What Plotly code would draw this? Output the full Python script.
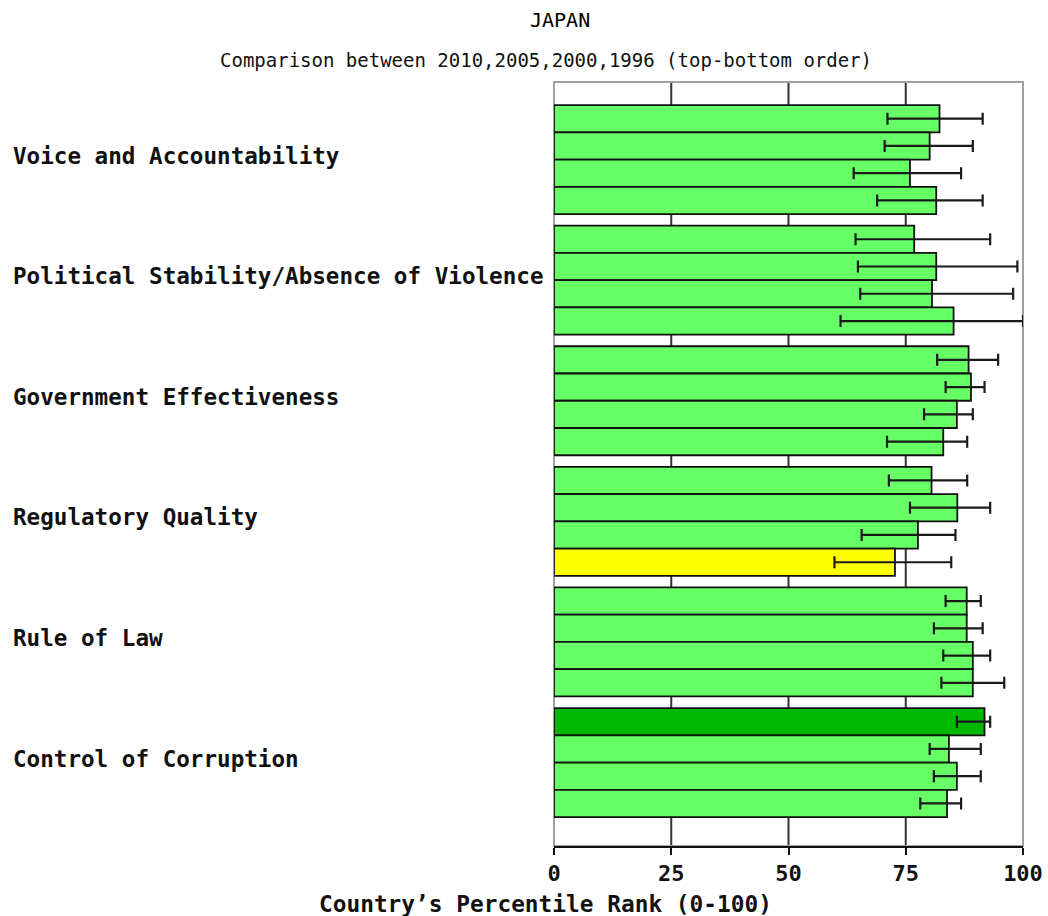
import plotly.graph_objects as go

# Governance indicators, listed top to bottom
categories = [
    "Voice and Accountability",
    "Political Stability/Absence of Violence",
    "Government Effectiveness",
    "Regulatory Quality",
    "Rule of Law",
    "Control of Corruption",
]
years = ["2010", "2005", "2000", "1996"]

# Percentile rank per year (same order as categories)
rank_2010 = [82.2, 76.8, 88.4, 80.5, 88.0, 91.8]
rank_2005 = [80.1, 81.5, 88.9, 86.0, 88.0, 84.2]
rank_2000 = [75.9, 80.6, 85.9, 77.6, 89.3, 85.9]
rank_1996 = [81.5, 85.2, 83.0, 72.7, 89.3, 83.8]

# Lower / upper bounds of the confidence interval
low_2010 = [71.1, 64.3, 81.7, 71.4, 83.5, 85.9]
high_2010 = [91.4, 93.0, 94.7, 88.1, 91.0, 93.0]
low_2005 = [70.5, 64.8, 83.5, 75.9, 81.0, 80.1]
high_2005 = [89.3, 98.8, 91.8, 93.0, 91.4, 91.0]
low_2000 = [63.9, 65.3, 78.9, 65.6, 83.0, 81.0]
high_2000 = [86.8, 97.9, 89.3, 85.6, 93.0, 91.0]
low_1996 = [68.9, 61.1, 71.0, 59.8, 82.6, 78.1]
high_1996 = [91.4, 100.0, 88.1, 84.7, 96.0, 86.8]

x_ticks = [0, 25, 50, 75, 100]

series = [
    (years[0], rank_2010, low_2010, high_2010),
    (years[1], rank_2005, low_2005, high_2005),
    (years[2], rank_2000, low_2000, high_2000),
    (years[3], rank_1996, low_1996, high_1996),
]


def band_colour(v):
    if v >= 90:
        return "#00B800"
    if v >= 75:
        return "#66FF66"
    if v >= 50:
        return "#FFFF00"
    if v >= 25:
        return "#FF9900"
    return "#FF3300"


MONO = "DejaVu Sans Mono"
PLOT_W = 1048 - 554 - 25
PLOT_H = 916 - 82 - 70

fig = go.Figure()
for name, vals, lo, hi in series:
    fig.add_trace(go.Bar(
        name=name,
        orientation="h",
        y=categories,
        x=vals,
        marker=dict(color=[band_colour(v) for v in vals],
                    line=dict(color="#111111", width=1.8)),
        error_x=dict(
            type="data",
            symmetric=False,
            array=[h - v for h, v in zip(hi, vals)],
            arrayminus=[v - l for l, v in zip(lo, vals)],
            color="#1a1a1a",
            thickness=2.2,
            width=6,
        ),
        showlegend=False,
        hoverinfo="skip",
    ))

# vertical reference lines inside the plot box
shapes = [
    dict(type="line", xref="x", yref="paper", x0=t, x1=t, y0=0, y1=1,
         line=dict(color="#333333", width=2), layer="below")
    for t in x_ticks[1:-1]
]
shapes.append(dict(type="rect", xref="paper", yref="paper", x0=0, x1=1, y0=0, y1=1,
                   line=dict(color="#A0A0A0", width=2), layer="below"))

annotations = [
    dict(text=c, xref="paper", yref="y", x=-543 / PLOT_W, y=c, xanchor="left",
         yanchor="middle", yshift=4, showarrow=False,
         font=dict(family=MONO, size=22.6, color="#111111", weight="bold"))
    for c in categories
]
annotations.append(dict(
    text="Country\u2019s Percentile Rank (0-100)", xref="paper", yref="paper",
    x=(545 - 554) / PLOT_W, y=-58 / PLOT_H, xanchor="center", yanchor="middle",
    showarrow=False, font=dict(family=MONO, size=22.8, color="#111111", weight="bold")))
annotations.append(dict(
    text="JAPAN", xref="paper", yref="paper", x=(560 - 554) / PLOT_W, y=1 + 62 / PLOT_H,
    xanchor="center", yanchor="middle", showarrow=False,
    font=dict(family=MONO, size=20, color="#000000")))
annotations.append(dict(
    text="Comparison between 2010,2005,2000,1996 (top-bottom order)", xref="paper",
    yref="paper", x=(546 - 554) / PLOT_W, y=1 + 22 / PLOT_H, xanchor="center",
    yanchor="middle", showarrow=False,
    font=dict(family=MONO, size=19, color="#111111")))

fig.update_layout(
    width=1048,
    height=916,
    margin=dict(l=554, r=25, t=82, b=70, autoexpand=False),
    paper_bgcolor="white",
    plot_bgcolor="white",
    barmode="group",
    bargap=0.096,
    bargroupgap=0,
    shapes=shapes,
    annotations=annotations,
    xaxis=dict(
        range=[0, 100],
        automargin=False,
        tickvals=x_ticks,
        ticktext=[str(t) for t in x_ticks],
        showgrid=False,
        zeroline=False,
        showline=True,
        linecolor="#111111",
        linewidth=2,
        ticks="outside",
        ticklen=7,
        tickwidth=2,
        tickcolor="#111111",
        tickfont=dict(family=MONO, size=22, color="#111111", weight="bold"),
    ),
    yaxis=dict(
        type="category",
        automargin=False,
        categoryorder="array",
        categoryarray=categories,
        range=[5.692, -0.643],
        showticklabels=False,
        showgrid=False,
        zeroline=False,
        showline=False,
        ticks="",
    ),
)

fig.write_html("out.html")
